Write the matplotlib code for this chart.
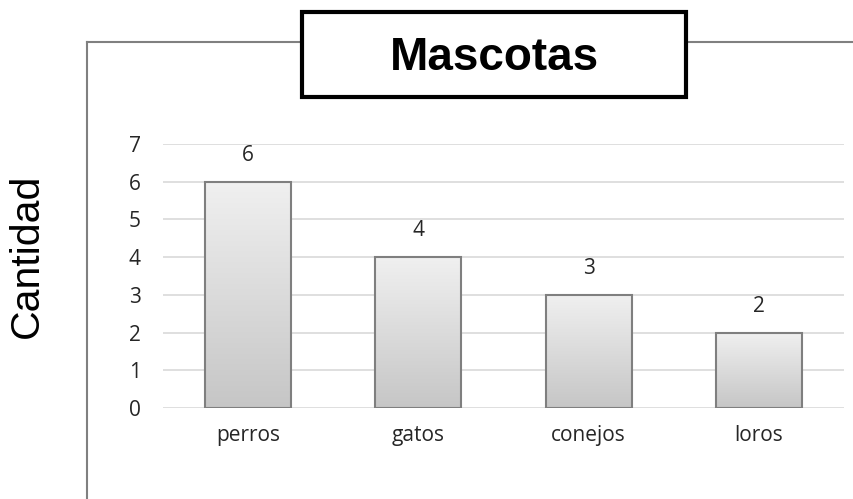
import matplotlib
matplotlib.use("Agg")
import matplotlib.pyplot as plt
import numpy as np
from matplotlib.patches import Rectangle
from matplotlib.lines import Line2D

categories = ["perros", "gatos", "conejos", "loros"]
values = [6, 4, 3, 2]
yticks = [0, 1, 2, 3, 4, 5, 6, 7]
title = "Mascotas"
ylabel = "Cantidad"

W, H = 854, 499
fig = plt.figure(figsize=(W / 100, H / 100), dpi=100)
fig.patch.set_facecolor("white")

# outer frame (left and top lines only)
fx = 87.5 / W
fy = 1 - 42 / H
fig.add_artist(Line2D([fx, fx], [0, fy], transform=fig.transFigure,
                      color="#808080", lw=1.5, zorder=1))
fig.add_artist(Line2D([fx, 1.0], [fy, fy], transform=fig.transFigure,
                      color="#808080", lw=1.5, zorder=1))

# title box
bx0, bx1 = 302 / W, 686 / W
by0, by1 = 1 - 97 / H, 1 - 12 / H
fig.add_artist(Rectangle((bx0, by0), bx1 - bx0, by1 - by0, transform=fig.transFigure,
                         facecolor="white", edgecolor="black", lw=3, zorder=5))
fig.text((bx0 + bx1) / 2, 1 - 69.5 / H, title, ha="center", va="baseline",
         fontsize=33, fontweight="bold", family="Liberation Sans", color="black", zorder=6)

# y label
fig.text(27 / W, 1 - 256 / H, ylabel, rotation=90, ha="center", va="center",
         fontsize=29.5, family="Liberation Sans", color="black")

# axes
ax_l, ax_r = 163 / W, 844 / W
ax_b, ax_t = 1 - 408 / H, 1 - 144 / H
ax = fig.add_axes([ax_l, ax_b, ax_r - ax_l, ax_t - ax_b])
ax.set_facecolor("none")
x = np.arange(len(categories))
ax.set_xlim(-0.5, len(categories) - 0.5)
ax.set_ylim(0, 7)
for s in ax.spines.values():
    s.set_visible(False)
ax.set_yticks(yticks)
ax.set_yticklabels([str(t) for t in yticks])
ax.set_xticks(x)
ax.set_xticklabels(categories)
ax.tick_params(axis="y", length=0, pad=16, labelsize=15, labelcolor="#262626")
ax.tick_params(axis="x", length=0, pad=12, labelsize=15, labelcolor="#262626")
for lbl in ax.get_xticklabels() + ax.get_yticklabels():
    lbl.set_family("Open Sans")
ax.yaxis.grid(True, color="#d9d9d9", lw=1.2)
ax.set_axisbelow(True)

bars = ax.bar(x, values, width=0.505, facecolor="none", edgecolor="#7f7f7f",
              lw=1.5, zorder=3)
grad = np.linspace(0, 1, 256).reshape(-1, 1)
cmap = matplotlib.colors.LinearSegmentedColormap.from_list("g", ["#c6c6c6", "#f0f0f0"])
for b in bars:
    bx, bw, bh = b.get_x(), b.get_width(), b.get_height()
    im = ax.imshow(grad, extent=[bx, bx + bw, 0, bh], origin="lower", cmap=cmap,
                   aspect="auto", zorder=2, interpolation="bicubic")
    im.set_clip_path(b)
ax.set_xlim(-0.5, len(categories) - 0.5)
ax.set_ylim(0, 7)

for xi, v in zip(x, values):
    ax.annotate(str(v), (xi, v), xytext=(0, 19), textcoords="offset points",
                ha="center", va="center", fontsize=15, color="#262626",
                family="Open Sans")

fig.savefig("out.png", dpi=100, facecolor="white")
